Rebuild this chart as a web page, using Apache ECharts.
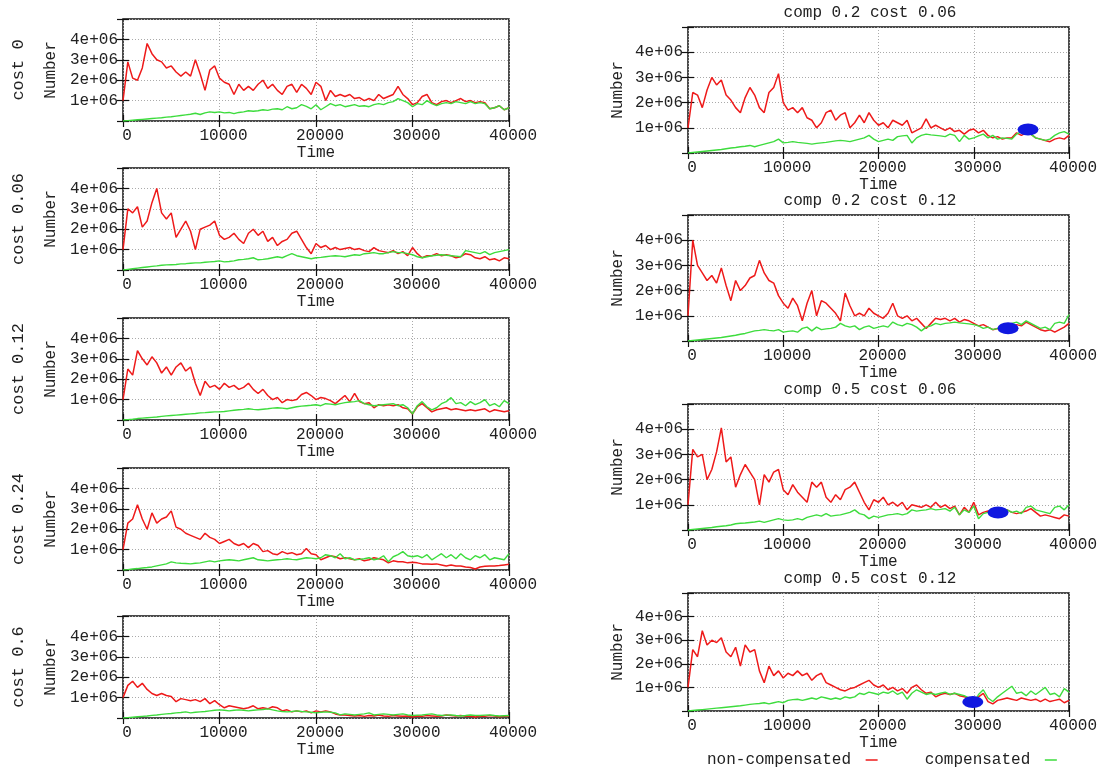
<!DOCTYPE html>
<html><head><meta charset="utf-8">
<script src="https://cdn.jsdelivr.net/npm/echarts@6/dist/echarts.min.js"></script>
<style>html,body{margin:0;padding:0;background:#fff}#c{width:1109px;height:767px}</style>
</head><body><div id="c"></div>
<script>
// Time steps (x values)
const TIME = [0,500,1000,1500,2000,2500,3000,3500,4000,4500,5000,5500,6000,6500,7000,7500,8000,8500,9000,9500,10000,10500,11000,11500,12000,12500,13000,13500,14000,14500,15000,15500,16000,16500,17000,17500,18000,18500,19000,19500,20000,20500,21000,21500,22000,22500,23000,23500,24000,24500,25000,25500,26000,26500,27000,27500,28000,28500,29000,29500,30000,30500,31000,31500,32000,32500,33000,33500,34000,34500,35000,35500,36000,36500,37000,37500,38000,38500,39000,39500,40000];

// Values in millions (1 = 1e+06)
const RED_COST_0 = [1.0,2.9,2.1,2.0,2.6,3.8,3.3,3.0,2.9,2.6, 2.7,2.4,2.2,2.4,2.2,3.0,2.3,1.5,2.5,2.7, 2.1,1.9,1.8,1.3,1.8,1.5,1.7,1.5,1.8,2.0, 1.6,1.8,1.5,1.3,1.7,1.8,1.4,1.8,1.6,1.3, 1.9,1.7,1.0,1.5,1.2,1.3,1.2,1.3,1.1,1.15, 1.0,1.1,1.0,1.3,1.1,1.2,1.3,1.7,1.3,1.1, 0.8,0.9,1.2,1.3,0.9,0.8,0.95,1.0,0.9,1.0, 1.1,0.95,1.0,0.9,0.95,0.9,0.6,0.65,0.75,0.55, 0.65];
const GREEN_COST_0 = [0,0.02,0.04,0.06,0.08,0.1,0.12,0.14,0.16,0.19, 0.21,0.24,0.27,0.3,0.33,0.38,0.32,0.4,0.45,0.42, 0.45,0.4,0.42,0.36,0.42,0.45,0.5,0.48,0.5,0.55, 0.52,0.58,0.6,0.55,0.7,0.6,0.65,0.8,0.72,0.6, 0.8,0.55,0.7,0.85,0.75,0.8,0.7,0.75,0.8,0.72, 0.75,0.7,0.8,0.85,0.8,0.9,0.95,1.1,1.0,0.9, 0.7,0.85,0.8,1.0,0.85,0.75,0.85,0.9,0.85,0.95, 0.9,0.85,0.95,0.85,0.9,0.85,0.6,0.65,0.75,0.55, 0.65];

const RED_COST_006 = [1.0,3.0,2.8,3.1,2.1,2.4,3.3,4.0,2.8,2.5, 2.8,1.6,2.0,2.4,1.9,1.0,2.0,2.1,2.2,2.4, 1.7,1.5,1.6,1.8,1.5,1.3,1.8,2.0,1.7,1.9, 1.4,1.6,1.2,1.4,1.5,1.8,1.9,1.5,1.1,0.8, 1.3,1.1,1.2,1.0,1.1,1.0,1.05,1.1,1.0,1.05, 0.95,0.9,1.1,0.95,0.9,0.85,0.95,0.8,0.9,0.7, 1.1,0.8,0.6,0.7,0.7,0.8,0.7,0.75,0.7,0.6, 0.65,0.8,0.75,0.6,0.55,0.65,0.5,0.55,0.45,0.6, 0.55];
const GREEN_COST_006 = [0,0.03,0.06,0.09,0.12,0.15,0.18,0.2,0.23,0.25, 0.26,0.27,0.3,0.31,0.33,0.35,0.35,0.38,0.4,0.42, 0.45,0.4,0.42,0.45,0.5,0.52,0.55,0.6,0.5,0.52, 0.55,0.6,0.65,0.6,0.7,0.8,0.7,0.65,0.6,0.55, 0.6,0.62,0.65,0.68,0.7,0.68,0.65,0.7,0.75,0.72, 0.8,0.82,0.85,0.8,0.8,0.85,0.9,0.85,0.85,0.8, 0.75,0.65,0.6,0.65,0.7,0.72,0.75,0.72,0.7,0.68, 0.65,0.95,0.9,0.85,0.8,0.9,0.75,0.85,0.9,0.95, 1.0];

const RED_COST_012 = [1.0,2.5,2.2,3.4,3.0,2.7,3.1,2.8,2.3,2.6, 2.2,2.6,2.8,2.4,2.6,1.8,1.2,1.9,1.6,1.7, 1.5,1.8,1.6,1.7,1.5,1.6,1.8,1.5,1.3,1.5, 1.2,1.0,1.1,0.85,1.0,0.95,1.0,1.25,1.35,1.2, 1.0,1.1,1.05,0.95,0.8,1.0,1.2,0.9,1.3,0.9, 0.8,0.85,0.6,0.75,0.7,0.75,0.7,0.75,0.6,0.55, 0.3,0.65,0.8,0.6,0.4,0.5,0.55,0.6,0.5,0.55, 0.5,0.45,0.5,0.45,0.5,0.55,0.4,0.5,0.45,0.4, 0.45];
const GREEN_COST_012 = [0,0.02,0.04,0.07,0.09,0.11,0.13,0.15,0.18,0.2, 0.22,0.24,0.26,0.28,0.3,0.32,0.35,0.36,0.38,0.4, 0.4,0.42,0.45,0.48,0.5,0.52,0.55,0.52,0.5,0.53, 0.55,0.58,0.6,0.58,0.55,0.6,0.65,0.68,0.7,0.72, 0.75,0.7,0.8,0.78,0.75,0.8,0.85,0.88,0.9,0.95, 0.8,0.75,0.7,0.72,0.75,0.78,0.8,0.7,0.75,0.6, 0.3,0.7,0.9,0.65,0.5,0.6,0.8,0.9,1.1,0.8, 0.85,0.7,0.9,0.75,0.85,1.0,0.7,0.8,0.65,0.95, 0.8];

const RED_COST_024 = [1.0,2.3,2.5,3.2,2.5,2.0,2.8,2.3,2.5,2.6, 2.9,2.1,2.0,1.8,1.7,1.6,1.5,1.8,1.6,1.5, 1.3,1.4,1.5,1.3,1.2,1.3,1.1,1.3,1.2,0.9, 0.95,0.8,0.75,0.9,0.8,0.85,0.75,0.8,1.05,0.8, 0.75,0.5,0.6,0.7,0.65,0.55,0.6,0.55,0.5,0.55, 0.45,0.5,0.6,0.55,0.5,0.35,0.45,0.4,0.4,0.35, 0.38,0.35,0.3,0.3,0.28,0.3,0.25,0.2,0.25,0.2, 0.2,0.15,0.12,0.05,0.15,0.18,0.2,0.2,0.22,0.25, 0.28];
const GREEN_COST_024 = [0,0.02,0.05,0.07,0.1,0.12,0.15,0.2,0.25,0.3, 0.4,0.35,0.33,0.32,0.3,0.33,0.35,0.4,0.45,0.4, 0.45,0.48,0.5,0.48,0.45,0.5,0.55,0.6,0.5,0.48, 0.45,0.48,0.5,0.52,0.55,0.52,0.5,0.55,0.6,0.58, 0.55,0.6,0.75,0.7,0.6,0.8,0.55,0.6,0.5,0.52, 0.55,0.6,0.5,0.55,0.7,0.4,0.65,0.75,0.9,0.7, 0.65,0.7,0.6,0.75,0.5,0.65,0.8,0.6,0.75,0.55, 0.8,0.6,0.5,0.7,0.6,0.75,0.5,0.6,0.55,0.5, 0.8];

const RED_COST_06 = [1.0,1.6,1.8,1.5,1.7,1.4,1.2,1.1,1.2,1.1, 1.05,0.8,0.95,0.9,0.85,0.9,0.8,0.95,0.7,0.85, 0.65,0.5,0.6,0.55,0.5,0.45,0.5,0.6,0.45,0.5, 0.45,0.55,0.5,0.35,0.4,0.3,0.35,0.3,0.35,0.25, 0.35,0.3,0.35,0.3,0.2,0.15,0.15,0.12,0.1,0.12, 0.08,0.12,0.1,0.15,0.1,0.08,0.12,0.1,0.08,0.1, 0.05,0.1,0.08,0.12,0.1,0.08,0.1,0.15,0.12,0.1, 0.12,0.08,0.1,0.05,0.1,0.08,0.12,0.1,0.06,0.08, 0.1];
const GREEN_COST_06 = [0,0.02,0.04,0.06,0.08,0.1,0.13,0.15,0.18,0.2, 0.22,0.25,0.27,0.3,0.25,0.28,0.3,0.32,0.35,0.38, 0.4,0.38,0.35,0.38,0.4,0.38,0.35,0.38,0.4,0.42, 0.45,0.4,0.35,0.32,0.3,0.32,0.35,0.32,0.3,0.28, 0.25,0.28,0.3,0.28,0.25,0.15,0.2,0.18,0.15,0.18, 0.2,0.25,0.15,0.18,0.2,0.18,0.15,0.18,0.2,0.15, 0.12,0.14,0.15,0.18,0.2,0.15,0.12,0.14,0.15,0.12, 0.1,0.12,0.15,0.13,0.12,0.14,0.15,0.12,0.1,0.11, 0.12];

const RED_COMP02_COST006 = [1.0,2.4,2.3,1.8,2.5,3.0,2.7,2.9,2.3,2.1, 1.8,1.6,2.2,2.6,2.3,1.8,1.6,2.4,2.6,3.15, 2.0,1.7,1.8,1.6,1.8,1.4,1.3,1.0,1.2,1.6, 1.7,1.3,1.5,1.6,1.0,1.2,1.5,1.2,1.6,1.3, 1.1,1.2,1.0,1.3,1.2,1.1,1.3,0.8,0.9,1.0, 1.35,1.0,1.1,1.0,0.9,1.0,0.85,0.9,0.75,0.9, 0.95,0.8,0.9,0.7,0.6,0.65,0.55,0.6,0.6,0.8, 0.7,0.8,0.75,0.6,0.55,0.5,0.45,0.55,0.6,0.55, 0.7];
const GREEN_COMP02_COST006 = [0,0.02,0.04,0.06,0.08,0.1,0.12,0.14,0.17,0.2, 0.22,0.25,0.27,0.3,0.25,0.3,0.35,0.4,0.45,0.55, 0.4,0.42,0.45,0.42,0.4,0.38,0.35,0.38,0.4,0.42, 0.45,0.48,0.5,0.48,0.45,0.5,0.55,0.6,0.7,0.55, 0.45,0.5,0.55,0.5,0.65,0.68,0.7,0.4,0.6,0.7, 0.75,0.72,0.7,0.68,0.65,0.75,0.7,0.45,0.7,0.55, 0.6,0.68,0.75,0.6,0.7,0.55,0.6,0.58,0.55,0.75, 0.85,0.9,0.75,0.6,0.55,0.5,0.55,0.7,0.8,0.85, 0.75];

const RED_COMP02_COST012 = [1.0,4.0,3.0,2.7,2.4,2.6,2.3,2.9,2.2,1.6, 2.4,2.0,2.2,2.5,2.6,3.2,2.7,2.4,2.3,1.8, 1.5,1.3,1.7,1.4,0.8,1.5,2.0,1.0,1.6,1.5, 1.3,1.1,0.8,1.9,1.4,1.0,1.1,1.0,1.3,1.1, 1.0,0.9,1.1,1.5,1.0,0.9,1.0,0.8,0.9,0.7, 0.5,0.7,0.9,0.85,0.9,0.8,0.9,0.75,0.85,0.8, 0.7,0.6,0.65,0.55,0.45,0.5,0.45,0.5,0.55,0.65, 0.6,0.75,0.65,0.55,0.45,0.4,0.45,0.35,0.45,0.55, 0.7];
const GREEN_COMP02_COST012 = [0,0.02,0.04,0.06,0.08,0.1,0.12,0.14,0.17,0.2, 0.23,0.27,0.3,0.35,0.4,0.42,0.45,0.42,0.4,0.45, 0.35,0.38,0.4,0.35,0.5,0.55,0.4,0.55,0.45,0.48, 0.5,0.55,0.7,0.6,0.55,0.6,0.45,0.55,0.6,0.5, 0.55,0.6,0.55,0.75,0.65,0.6,0.7,0.65,0.55,0.4, 0.55,0.6,0.7,0.65,0.7,0.72,0.75,0.72,0.7,0.68, 0.65,0.6,0.5,0.55,0.45,0.5,0.55,0.6,0.7,0.75, 0.65,0.8,0.7,0.6,0.5,0.55,0.45,0.7,0.75,0.7, 1.05];

const RED_COMP05_COST006 = [1.0,3.2,2.9,3.0,2.0,2.4,3.1,4.05,2.7,2.9, 1.7,2.2,2.6,2.3,2.0,1.0,2.2,1.9,2.3,2.4, 1.6,1.4,1.8,1.5,1.3,1.1,1.9,1.7,1.9,1.3, 1.1,1.4,1.2,1.6,1.7,1.9,1.5,1.1,0.8,1.2, 1.1,1.3,1.0,1.1,0.95,1.1,0.8,1.0,0.95,0.9, 1.0,0.9,1.1,0.9,1.0,0.85,0.95,0.6,0.9,0.7, 1.1,0.6,0.7,0.75,0.7,0.7,0.75,0.8,0.7,0.65, 0.7,0.75,0.85,0.7,0.55,0.6,0.55,0.5,0.45,0.6, 0.55];
const GREEN_COMP05_COST006 = [0,0.02,0.04,0.06,0.08,0.1,0.13,0.15,0.17,0.2, 0.25,0.27,0.28,0.3,0.32,0.35,0.3,0.35,0.4,0.45, 0.4,0.38,0.4,0.45,0.4,0.5,0.55,0.6,0.55,0.65, 0.55,0.58,0.6,0.65,0.7,0.8,0.65,0.6,0.45,0.55, 0.5,0.55,0.6,0.62,0.65,0.6,0.65,0.8,0.75,0.78, 0.8,0.85,0.8,0.82,0.85,0.75,0.9,0.6,0.8,0.7, 0.95,0.45,0.65,0.7,0.75,0.7,0.75,0.8,0.7,0.75, 0.65,0.9,0.95,0.8,0.75,0.7,0.65,0.9,0.95,0.8, 1.0];

const RED_COMP05_COST012 = [1.0,2.6,2.3,3.4,2.8,3.0,2.9,3.1,2.5,2.3, 2.7,1.9,2.8,2.5,2.6,1.7,1.2,1.9,1.5,1.7, 1.4,1.6,1.5,1.7,1.5,1.6,1.3,1.5,1.6,1.2, 1.1,1.0,0.9,0.85,0.95,1.0,1.1,1.2,1.3,1.1, 1.0,1.1,0.9,1.0,0.85,0.95,0.75,1.0,1.1,0.9, 0.75,0.8,0.6,0.7,0.75,0.7,0.75,0.65,0.6,0.55, 0.3,0.6,0.75,0.4,0.3,0.45,0.5,0.55,0.5,0.45, 0.55,0.5,0.45,0.5,0.4,0.5,0.4,0.45,0.5,0.35, 0.45];
const GREEN_COMP05_COST012 = [0,0.02,0.04,0.06,0.08,0.1,0.12,0.14,0.16,0.18, 0.2,0.22,0.25,0.28,0.3,0.32,0.35,0.3,0.35,0.4, 0.35,0.45,0.48,0.5,0.45,0.5,0.55,0.5,0.6,0.55, 0.5,0.55,0.5,0.6,0.55,0.6,0.75,0.7,0.8,0.75, 0.7,0.8,0.75,0.85,0.7,0.8,0.5,0.75,0.9,0.8, 0.7,0.75,0.7,0.75,0.8,0.7,0.75,0.7,0.65,0.55, 0.3,0.7,0.9,0.55,0.4,0.6,0.75,0.9,1.05,0.75, 0.8,0.65,0.85,0.7,0.85,1.0,0.7,0.75,0.6,0.95, 0.8];

// Blue ellipse markers on the right-hand panels: [time, value in millions]
const MARKERS = [[35700,0.93],[33600,0.51],[32550,0.69],[29900,0.38]];

const LEFT_LABELS = ['cost 0','cost 0.06','cost 0.12','cost 0.24','cost 0.6'];
const RIGHT_TITLES = ['comp 0.2 cost 0.06','comp 0.2 cost 0.12','comp 0.5 cost 0.06','comp 0.5 cost 0.12'];
const Y_TICK_LABELS = {1:'1e+06',2:'2e+06',3:'3e+06',4:'4e+06'};
const SERIES_NAMES = ['non-compensated','compensated'];

const FONT = '"Liberation Mono","DejaVu Sans Mono",monospace';
const TXT = '#222';
const RED = '#ee1a1a', GREEN = '#3ddc3d', BLUE = '#1018e0';

const panels = [
  {red:RED_COST_0, green:GREEN_COST_0, side:LEFT_LABELS[0], box:[123,19,386,102]},
  {red:RED_COST_006, green:GREEN_COST_006, side:LEFT_LABELS[1], box:[123,168,386,102]},
  {red:RED_COST_012, green:GREEN_COST_012, side:LEFT_LABELS[2], box:[123,318,386,102]},
  {red:RED_COST_024, green:GREEN_COST_024, side:LEFT_LABELS[3], box:[123,468,386,102]},
  {red:RED_COST_06, green:GREEN_COST_06, side:LEFT_LABELS[4], box:[123,616,386,102]},
  {red:RED_COMP02_COST006, green:GREEN_COMP02_COST006, title:RIGHT_TITLES[0], marker:MARKERS[0], box:[688,27,381,126]},
  {red:RED_COMP02_COST012, green:GREEN_COMP02_COST012, title:RIGHT_TITLES[1], marker:MARKERS[1], box:[688,215,381,126]},
  {red:RED_COMP05_COST006, green:GREEN_COMP05_COST006, title:RIGHT_TITLES[2], marker:MARKERS[2], box:[688,404,381,126]},
  {red:RED_COMP05_COST012, green:GREEN_COMP05_COST012, title:RIGHT_TITLES[3], marker:MARKERS[3], box:[688,593,381,118]}
];

const grid = [], xAxis = [], yAxis = [], series = [], graphic = [];
const tick = {show:true, inside:true, length:6, lineStyle:{color:'#111', width:1.2}};
panels.forEach((p, i) => {
  const [l, t, w, h] = p.box;
  const leftCol = l < 600;
  grid.push({left:l, top:t, width:w, height:h, show:true, borderColor:'#111', borderWidth:1.5, backgroundColor:'#fff'});
  const xBase = {gridIndex:i, type:'value', min:0, max:40000, interval:10000};
  const yBase = {gridIndex:i, type:'value', min:0, max:5, interval:1};
  xAxis.push(Object.assign({}, xBase, {
    position:'bottom',
    axisLine:{show:false}, axisTick:tick,
    axisLabel:{show:true, fontFamily:FONT, fontSize:16, color:TXT, margin:7, showMinLabel:true, showMaxLabel:true,
      padding:[0,0,0,8], formatter:v => String(v)},
    splitLine:{show:true, lineStyle:{color:'#aaa', type:[1,2], width:1}},
    name:'Time', nameLocation:'middle', nameGap:leftCol ? 23 : 22,
    nameTextStyle:{fontFamily:FONT, fontSize:16, color:TXT}
  }));
  xAxis.push(Object.assign({}, xBase, {
    position:'top', axisLine:{show:false}, axisTick:tick, axisLabel:{show:false}, splitLine:{show:false}
  }));
  yAxis.push(Object.assign({}, yBase, {
    position:'left',
    axisLine:{show:false}, axisTick:tick,
    axisLabel:{fontFamily:FONT, fontSize:16, color:TXT, margin:5, formatter:v => Y_TICK_LABELS[v] || ''},
    splitLine:{show:true, lineStyle:{color:'#aaa', type:[1,2], width:1}},
    name:'Number', nameLocation:'middle', nameRotate:90, nameGap:leftCol ? 64 : 62,
    nameTextStyle:{fontFamily:FONT, fontSize:16, color:TXT}
  }));
  yAxis.push(Object.assign({}, yBase, {
    position:'right', axisLine:{show:false}, axisTick:tick, axisLabel:{show:false}, splitLine:{show:false}
  }));
  series.push({
    name:SERIES_NAMES[0], type:'line', xAxisIndex:2*i, yAxisIndex:2*i, showSymbol:false, animation:false,
    color:RED, lineStyle:{color:RED, width:1.5}, z:2,
    data:TIME.map((tt, k) => [tt, p.red[k]])
  });
  series.push({
    name:SERIES_NAMES[1], type:'line', xAxisIndex:2*i, yAxisIndex:2*i, showSymbol:false, animation:false,
    color:GREEN, lineStyle:{color:GREEN, width:1.4}, z:3,
    data:TIME.map((tt, k) => [tt, p.green[k]])
  });
  if (p.marker) {
    series.push({
      type:'scatter', xAxisIndex:2*i, yAxisIndex:2*i, animation:false, symbol:'circle', symbolSize:[21,12],
      itemStyle:{color:BLUE, opacity:1}, z:4, silent:true, data:[p.marker]
    });
  }
  if (p.side) {
    graphic.push({type:'text', x:18, y:t + h/2, rotation:Math.PI/2,
      style:{text:p.side, font:'17px ' + FONT, fill:TXT, align:'center', verticalAlign:'middle'}});
  }
  if (p.title) {
    graphic.push({type:'text', x:870, y:t - 14,
      style:{text:p.title, font:'16px ' + FONT, fill:TXT, align:'center', verticalAlign:'middle'}});
  }
});

const chart = echarts.init(document.getElementById('c'), null, {renderer:'canvas'});
chart.setOption({
  animation:false,
  backgroundColor:'#fff',
  grid, xAxis, yAxis, series, graphic,
  legend:{
    data:SERIES_NAMES, left:702, top:747, align:'right', icon:'rect', itemWidth:12, itemHeight:1.5,
    itemGap:47, formatter:n => n + ' ',
    textStyle:{fontFamily:FONT, fontSize:16, color:TXT}
  }
});
</script>
</body></html>
